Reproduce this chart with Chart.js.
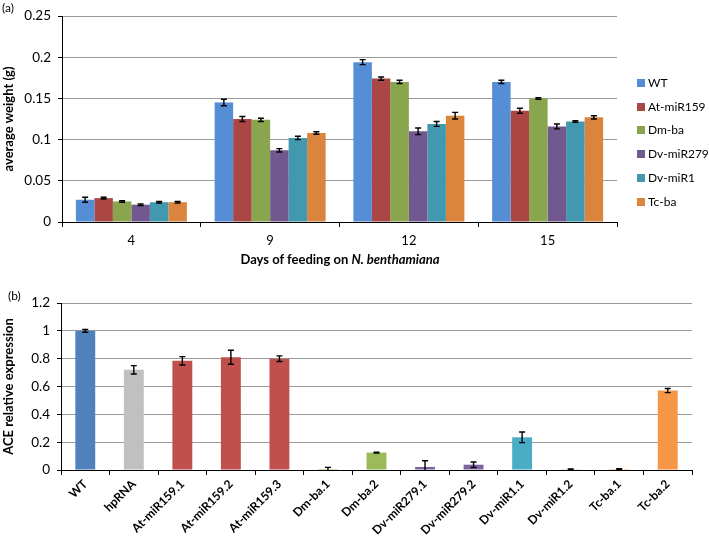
<!DOCTYPE html>
<html><head><meta charset="utf-8">
<script src="https://cdn.jsdelivr.net/npm/chart.js@4/dist/chart.umd.min.js"></script>
<style>
body{margin:0;width:709px;height:537px;background:#fff;position:relative;overflow:hidden;font-family:Lato,"Liberation Sans",sans-serif;color:#000;}
#wa{position:absolute;left:0;top:0;width:709px;height:268px;}
#wb{position:absolute;left:0;top:270px;width:709px;height:267px;}
.tag{position:absolute;font-size:12px;}
#xtA{position:absolute;left:140px;width:400px;top:251px;text-align:center;font-size:13px;font-weight:bold;}
#legA{position:absolute;left:637px;top:0;width:72px;height:268px;}
.li{position:absolute;left:0;white-space:nowrap;font-size:12px;height:16px;line-height:16px;}
.sw{position:absolute;left:0;top:4px;width:8px;height:8px;}
.lt{position:absolute;left:11px;top:0;}
</style></head>
<body>
<div id="wa"><canvas id="ca"></canvas></div>
<div id="wb"><canvas id="cb"></canvas></div>
<div class="tag" style="left:2px;top:0px;">(a)</div>
<div class="tag" style="left:8px;top:288px;">(b)</div>
<div id="xtA">Days of feeding on <i>N. benthamiana</i></div>
<div id="legA"></div>
<script>
// ---- Panel (a) data ----
const days = ['4', '9', '12', '15'];
const seriesNames = ['WT', 'At-miR159', 'Dm-ba', 'Dv-miR279', 'Dv-miR1', 'Tc-ba'];
const wtWeight    = [0.027, 0.145, 0.194, 0.170];
const atWeight    = [0.029, 0.125, 0.174, 0.135];
const dmWeight    = [0.025, 0.124, 0.170, 0.150];
const dv279Weight = [0.021, 0.087, 0.110, 0.116];
const dv1Weight   = [0.024, 0.102, 0.119, 0.122];
const tcWeight    = [0.024, 0.108, 0.129, 0.127];
const wtErr    = [0.003, 0.004, 0.003, 0.002];
const atErr    = [0.001, 0.003, 0.002, 0.003];
const dmErr    = [0.001, 0.002, 0.002, 0.001];
const dv279Err = [0.001, 0.002, 0.004, 0.003];
const dv1Err   = [0.001, 0.002, 0.003, 0.001];
const tcErr    = [0.001, 0.0015, 0.004, 0.002];
const weightTicks = [0, 0.05, 0.1, 0.15, 0.2, 0.25];

// ---- Panel (b) data ----
const lines = ['WT', 'hpRNA', 'At-miR159.1', 'At-miR159.2', 'At-miR159.3', 'Dm-ba.1', 'Dm-ba.2',
  'Dv-miR279.1', 'Dv-miR279.2', 'Dv-miR1.1', 'Dv-miR1.2', 'Tc-ba.1', 'Tc-ba.2'];
const aceExpr = [1.0, 0.72, 0.785, 0.81, 0.80, 0.007, 0.125, 0.022, 0.038, 0.235, 0.005, 0.007, 0.571];
const aceErr  = [0.01, 0.03, 0.03, 0.05, 0.02, 0.012, 0.003, 0.045, 0.02, 0.038, 0.002, 0.003, 0.015];
const aceTicks = [0, 0.2, 0.4, 0.6, 0.8, 1, 1.2];

// ---- styles ----
const colorsA = ['#558ED5', '#AA4643', '#89A54E', '#71588F', '#4198AF', '#DB843D'];
const colorsB = ['#4F81BD', '#C0C0C0', '#C0504D', '#C0504D', '#C0504D', '#9BBB59', '#9BBB59',
  '#8064A2', '#8064A2', '#4BACC6', '#4BACC6', '#F79646', '#F79646'];
const FONT = 'Lato, "Liberation Sans", sans-serif';

const errorBars = {
  id: 'errorBars',
  afterDatasetsDraw(chart) {
    const ctx = chart.ctx, y = chart.scales.y, a = chart.chartArea;
    ctx.save();
    ctx.beginPath(); ctx.rect(a.left, a.top - 10, a.right - a.left, a.bottom - a.top + 10); ctx.clip();
    ctx.strokeStyle = '#000'; ctx.lineWidth = 1.4;
    chart.data.datasets.forEach((ds, i) => {
      const meta = chart.getDatasetMeta(i);
      meta.data.forEach((el, j) => {
        const v = ds.data[j], e = ds.errors[j];
        const y1 = y.getPixelForValue(v + e), y2 = y.getPixelForValue(v - e);
        const x = el.x;
        ctx.beginPath();
        ctx.moveTo(x, y1); ctx.lineTo(x, y2);
        ctx.moveTo(x - 3, y1); ctx.lineTo(x + 3, y1);
        ctx.moveTo(x - 3, y2); ctx.lineTo(x + 3, y2);
        ctx.stroke();
      });
    });
    ctx.restore();
  }
};

const valsA = [wtWeight, atWeight, dmWeight, dv279Weight, dv1Weight, tcWeight];
const errsA = [wtErr, atErr, dmErr, dv279Err, dv1Err, tcErr];

const chartA = new Chart(document.getElementById('ca'), {
  type: 'bar',
  data: {
    labels: days,
    datasets: seriesNames.map((n, i) => ({
      label: n, data: valsA[i], errors: errsA[i],
      backgroundColor: colorsA[i], borderWidth: 0,
      categoryPercentage: 0.8, barPercentage: 1.0
    }))
  },
  options: {
    responsive: true, maintainAspectRatio: false, animation: false,
    layout: { padding: { top: 16, right: 92, left: 0, bottom: 0 } },
    plugins: { legend: { display: false }, tooltip: { enabled: false } },
    scales: {
      x: {
        grid: { offset: true, drawOnChartArea: false, tickLength: 5, color: '#000', tickColor: '#000' },
        border: { color: '#000', width: 1 },
        ticks: { font: { family: FONT, size: 13 }, color: '#000', padding: 6 },
        afterFit(s) { s.height = 46; }
      },
      y: {
        min: 0, max: 0.25,
        afterBuildTicks(s) { s.ticks = weightTicks.map(v => ({ value: v })); },
        grid: { color: '#9A9A9A', lineWidth: 1, tickLength: 4, tickColor: '#000' },
        border: { color: '#000', width: 1 },
        ticks: { font: { family: FONT, size: 13.5 }, color: '#000', padding: 7, callback: v => String(v) },
        title: { display: true, text: 'average weight (g)', font: { family: FONT, size: 13, weight: 'bold' }, color: '#000', padding: 1 },
        afterFit(s) { s.width = 62; }
      }
    }
  },
  plugins: [errorBars]
});

// HTML legend from dataset info
const leg = document.getElementById('legA');
const legTops = [75, 99, 122, 146, 170, 194];
chartA.data.datasets.forEach((ds, i) => {
  const d = document.createElement('div');
  d.className = 'li'; d.style.top = legTops[i] + 'px';
  d.innerHTML = '<span class="sw" style="background:' + ds.backgroundColor + '"></span><span class="lt">' + ds.label + '</span>';
  leg.appendChild(d);
});

new Chart(document.getElementById('cb'), {
  type: 'bar',
  data: {
    labels: lines,
    datasets: [{
      label: 'ACE relative expression', data: aceExpr, errors: aceErr,
      backgroundColor: colorsB, borderWidth: 0,
      categoryPercentage: 1.0, barPercentage: 0.41
    }]
  },
  options: {
    responsive: true, maintainAspectRatio: false, animation: false,
    layout: { padding: { top: 33, right: 17, left: 0, bottom: 0 } },
    plugins: { legend: { display: false }, tooltip: { enabled: false } },
    scales: {
      x: {
        grid: { offset: true, drawOnChartArea: false, tickLength: 5, color: '#000', tickColor: '#000' },
        border: { color: '#000', width: 1 },
        ticks: { font: { family: FONT, size: 12, weight: 'bold' }, color: '#000', padding: 2, maxRotation: 45, minRotation: 45, autoSkip: false },
        afterFit(s) { s.height = 67; }
      },
      y: {
        min: 0, max: 1.2,
        afterBuildTicks(s) { s.ticks = aceTicks.map(v => ({ value: v })); },
        grid: { color: '#9A9A9A', lineWidth: 1, tickLength: 4, tickColor: '#000' },
        border: { color: '#000', width: 1 },
        ticks: { font: { family: FONT, size: 13.5 }, color: '#000', padding: 7, callback: v => String(v) },
        title: { display: true, text: 'ACE relative expression', font: { family: FONT, size: 13, weight: 'bold' }, color: '#000', padding: 1 },
        afterFit(s) { s.width = 61; }
      }
    }
  },
  plugins: [errorBars]
});
</script>
</body></html>
